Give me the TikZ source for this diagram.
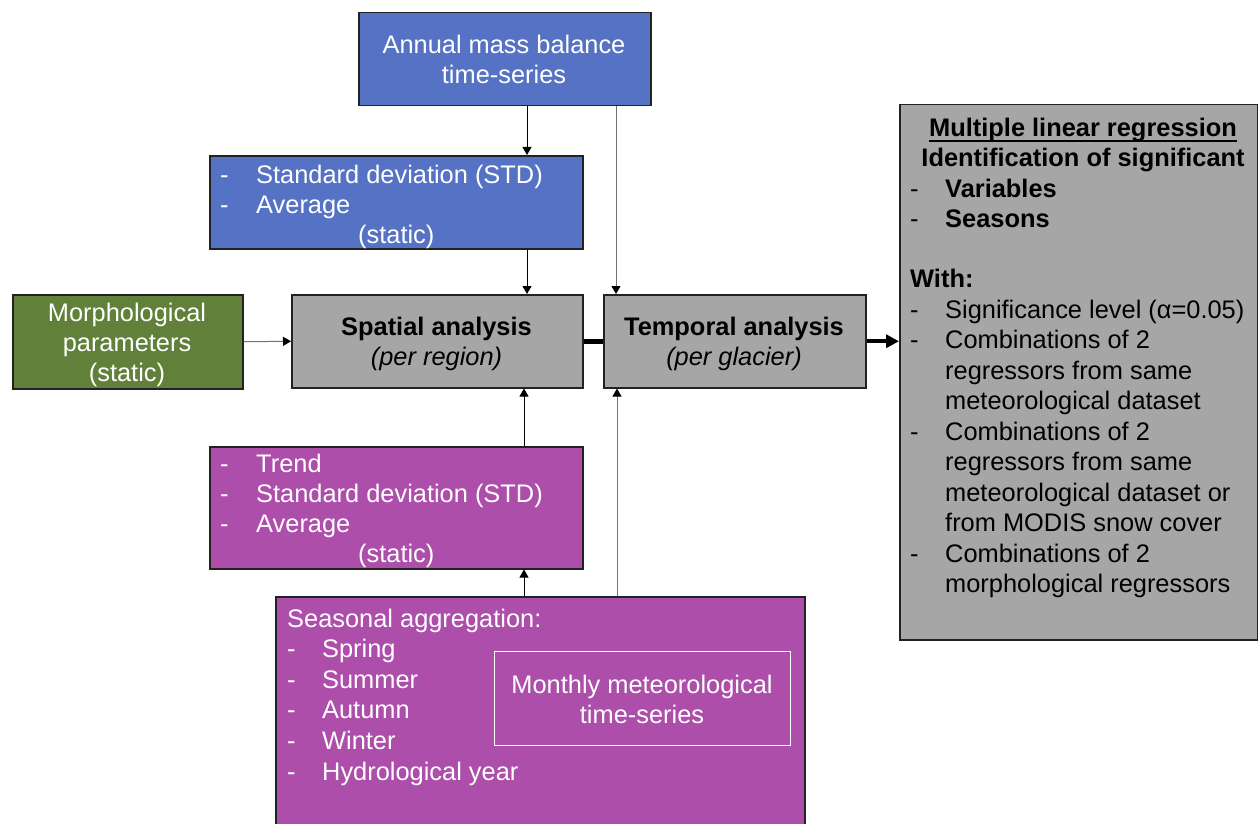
\documentclass[tikz,border=0pt]{standalone}
\usepackage{fontspec}
\setmainfont{Liberation Sans}
\usetikzlibrary{arrows.meta}
\definecolor{cblue}{HTML}{5572C4}
\definecolor{cgreen}{HTML}{61803A}
\definecolor{cpurple}{HTML}{AD4EAA}
\definecolor{cgray}{HTML}{A6A6A6}
\definecolor{cborder}{HTML}{222222}
\newcommand\di[2][35pt]{\makebox[#1][l]{-}#2}
\newcommand\lft[1]{\begin{tabular}[t]{@{}l@{}}#1\end{tabular}}
\newcommand\ctr[1]{\begin{tabular}[t]{@{}c@{}}#1\end{tabular}}
\newcommand\myul[1]{\setbox0\hbox{#1}\rlap{\rule[-5pt]{\wd0}{1.8pt}}\box0}
\begin{document}
\begin{tikzpicture}[x=1pt,y=-1pt,
  box/.style={draw=cborder, line width=1.5pt, inner sep=0pt, anchor=north west},
  txt/.style={inner sep=0pt, font=\fontsize{25.4}{30}\selectfont},
  arr/.style={line width=1pt, draw=black, -{Triangle[length=8pt,width=9pt]}},
  garr/.style={line width=1pt, draw=black!55, -{Triangle[length=8pt,width=9pt,black]}},
  bigline/.style={line width=5pt, draw=black}
]
\useasboundingbox (0,0) rectangle (1258,824);

% boxes
\node[box, fill=cblue, minimum width=292pt, minimum height=93pt] (annual) at (358,12) {};
\node[box, fill=cblue, minimum width=373pt, minimum height=93pt] (stdb) at (209,155) {};
\node[box, fill=cgreen, minimum width=230pt, minimum height=94pt] (morph) at (12,294) {};
\node[box, fill=cgray, minimum width=291pt, minimum height=93pt] (spatial) at (291,294) {};
\node[box, fill=cgray, minimum width=262pt, minimum height=93pt] (temporal) at (603,294) {};
\node[box, fill=cgray, minimum width=358pt, minimum height=535pt] (mlr) at (899,104) {};
\node[box, fill=cpurple, minimum width=373pt, minimum height=122pt] (trendb) at (209,446) {};
\node[box, fill=cpurple, minimum width=529pt, minimum height=250pt] (seasonal) at (275,596) {};
\node[box, draw=white, line width=1.2pt, minimum width=296pt, minimum height=94pt] (monthly) at (494,651) {};

% texts
\node[txt, anchor=base, text=white] (tAnnual) at (504,53.5) {\ctr{Annual mass balance\\time-series}};
\node[txt, anchor=base west, text=white] (tStd) at (220,183) {\lft{\di[36pt]{Standard deviation (STD)}\\\di[36pt]{Average}\\\hspace*{138pt}(static)}};
\node[txt, anchor=base, text=white] (tMorph) at (127,321) {\ctr{Morphological\\parameters\\(static)}};
\node[txt, anchor=base] (tSpatial) at (436.5,335) {\ctr{\bfseries Spatial analysis\\\itshape (per region)}};
\node[txt, anchor=base] (tTemporal) at (734,335) {\ctr{\bfseries Temporal analysis\\\itshape (per glacier)}};
\node[txt, anchor=base west, text=white] (tTrend) at (220,472) {\lft{\di[36pt]{Trend}\\\di[36pt]{Standard deviation (STD)}\\\di[36pt]{Average}\\\hspace*{138pt}(static)}};
\node[txt, anchor=base west, text=white, font=\fontsize{25.4}{30.6}\selectfont] (tSeason) at (287,627) {\lft{Seasonal aggregation:\\\di{Spring}\\\di{Summer}\\\di{Autumn}\\\di{Winter}\\\di{Hydrological year}}};
\node[txt, anchor=base, text=white] (tMonthly) at (642,693) {\ctr{Monthly meteorological\\time-series}};
\node[txt, anchor=base] (tMlrHead) at (1083,137) {\ctr{\bfseries\myul{Multiple linear regression}\\\bfseries Identification of significant}};
\node[txt, anchor=base west] (tMlrSig) at (910,197) {\lft{\di{\bfseries Variables}\\\di{\bfseries Seasons}}};
\node[txt, anchor=base west] (tWith) at (910,287.5) {\bfseries With:};
\node[txt, anchor=base west, font=\fontsize{25.4}{30.5}\selectfont] (tMlrList) at (910,318) {\lft{\di{Significance level (α=0.05)}\\\di{Combinations of 2}\\\hspace*{35pt}regressors from same\\\hspace*{35pt}meteorological dataset\\\di{Combinations of 2}\\\hspace*{35pt}regressors from same\\\hspace*{35pt}meteorological dataset or\\\hspace*{35pt}from MODIS snow cover\\\di{Combinations of 2}\\\hspace*{35pt}morphological regressors}};

% connectors
\coordinate (xa) at (527,0);
\coordinate (xb) at (616,0);
\coordinate (xc) at (524,0);
\coordinate (xd) at (617,0);
\draw[arr] (annual.south -| xa) -- (stdb.north -| xa);
\draw[arr] (stdb.south -| xa) -- (spatial.north -| xa);
\draw[garr] (annual.south -| xb) -- (temporal.north -| xb);
\draw[garr] (morph.east) -- (spatial.west);
\draw[arr] (trendb.north -| xc) -- (spatial.south -| xc);
\draw[arr] (seasonal.north -| xc) -- (trendb.south -| xc);
\draw[garr] (seasonal.north -| xd) -- (temporal.south -| xd);
\draw[bigline] (spatial.east) -- (temporal.west);
\draw[line width=4pt, -{Triangle[length=13pt,width=13pt]}] (temporal.east) -- (temporal.east -| mlr.west);
\end{tikzpicture}
\end{document}
